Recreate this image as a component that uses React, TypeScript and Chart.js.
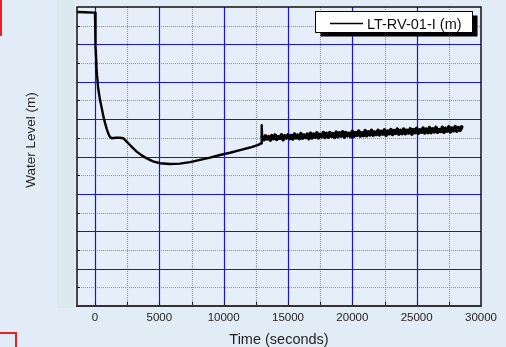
import { useEffect, useRef } from "react";
import { Chart, registerables } from "chart.js";

Chart.register(...registerables);

const FONT = 'Arial, "Liberation Sans", sans-serif';

const seriesLabel = "LT-RV-01-I (m)";
const xTitle = "Time (seconds)";
const yTitle = "Water Level (m)";

// Pumping and drawdown phase (time in s, level in m on the plot's 0–8 frame)
const drawdownTime = [
  -1400, -800, -100, 0, 39, 78, 54, 117, 78, 155, 117, 194, 233, 389, 521, 645,
  777, 909, 1049, 1166, 1298, 1632, 1943, 2200, 2464, 2798, 3241, 3630, 4018,
  4508, 5052, 5829, 6606, 7383, 8161, 8938, 9715, 10492, 11269, 12047, 12692,
  12902, 12956, 12990,
];
const drawdownLevel = [
  7.865, 7.86, 7.85, 7.845, 6.93, 6.7, 6.8, 6.45, 6.55, 6.2, 6.3, 6.05, 5.86,
  5.51, 5.3, 5.08, 4.9, 4.74, 4.6, 4.52, 4.49, 4.5, 4.5, 4.49, 4.4, 4.28, 4.13,
  4.03, 3.95, 3.87, 3.82, 3.8, 3.81, 3.85, 3.91, 3.97, 4.04, 4.1, 4.17, 4.24,
  4.31, 4.35, 4.84, 4.5,
];

// Noisy recovery record after the pump stops
const recoveryTime = [
  13000, 13125, 13250, 13375, 13500, 13625, 13750, 13875,
  14000, 14125, 14250, 14375, 14500, 14625, 14750, 14875,
  15000, 15125, 15250, 15375, 15500, 15625, 15750, 15875,
  16000, 16125, 16250, 16375, 16500, 16625, 16750, 16875,
  17000, 17125, 17250, 17375, 17500, 17625, 17750, 17875,
  18000, 18125, 18250, 18375, 18500, 18625, 18750, 18875,
  19000, 19125, 19250, 19375, 19500, 19625, 19750, 19875,
  20000, 20125, 20250, 20375, 20500, 20625, 20750, 20875,
  21000, 21125, 21250, 21375, 21500, 21625, 21750, 21875,
  22000, 22125, 22250, 22375, 22500, 22625, 22750, 22875,
  23000, 23125, 23250, 23375, 23500, 23625, 23750, 23875,
  24000, 24125, 24250, 24375, 24500, 24625, 24750, 24875,
  25000, 25125, 25250, 25375, 25500, 25625, 25750, 25875,
  26000, 26125, 26250, 26375, 26500, 26625, 26750, 26875,
  27000, 27125, 27250, 27375, 27500, 27625, 27750, 27875,
  28000, 28125, 28250, 28375, 28500,
];
const recoveryLevel = [
  4.52, 4.45, 4.55, 4.47, 4.53, 4.44, 4.56, 4.48,
  4.57, 4.46, 4.53, 4.49, 4.58, 4.45, 4.55, 4.5,
  4.58, 4.48, 4.56, 4.47, 4.6, 4.5, 4.57, 4.48,
  4.61, 4.49, 4.57, 4.51, 4.6, 4.48, 4.62, 4.5,
  4.6, 4.52, 4.63, 4.5, 4.59, 4.53, 4.64, 4.51,
  4.62, 4.52, 4.64, 4.54, 4.61, 4.51, 4.65, 4.53,
  4.63, 4.55, 4.66, 4.52, 4.64, 4.56, 4.62, 4.53,
  4.67, 4.54, 4.64, 4.57, 4.68, 4.55, 4.63, 4.56,
  4.69, 4.56, 4.66, 4.58, 4.7, 4.57, 4.65, 4.59,
  4.7, 4.58, 4.67, 4.6, 4.71, 4.57, 4.68, 4.61,
  4.72, 4.59, 4.69, 4.62, 4.73, 4.6, 4.7, 4.61,
  4.73, 4.61, 4.7, 4.63, 4.74, 4.6, 4.72, 4.64,
  4.75, 4.62, 4.71, 4.65, 4.76, 4.63, 4.73, 4.64,
  4.77, 4.64, 4.74, 4.66, 4.78, 4.65, 4.72, 4.67,
  4.78, 4.65, 4.75, 4.68, 4.79, 4.66, 4.76, 4.69,
  4.8, 4.68, 4.77, 4.7, 4.79,
];

const xLabelTicks = [0, 5000, 10000, 15000, 20000, 25000, 30000];
const xMajorGrid = [0, 5000, 10000, 15000, 20000, 25000];
const xMinorGrid = [2500, 7500, 12500, 17500, 22500, 27500];
const yMajorGrid = [1, 2, 3, 4, 5, 6, 7];
const yMinorGrid = [0.5, 1.5, 2.5, 3.5, 4.5, 5.5, 6.5, 7.5];

const backdropPlugin = {
  id: "backdrop",
  beforeDraw(chart: any) {
    const { ctx, width, height, chartArea: a } = chart;
    ctx.save();
    ctx.fillStyle = "rgb(226,236,247)";
    ctx.fillRect(0, 0, width, height);
    ctx.fillStyle = "rgb(218,233,238)";
    ctx.fillRect(57, 0, 17, 308);
    ctx.fillStyle = "rgb(230,239,249)";
    ctx.fillRect(a.left, a.top, a.right - a.left, a.bottom - a.top);
    ctx.strokeStyle = "rgb(240,30,30)";
    ctx.lineWidth = 2;
    ctx.strokeRect(-5, -5, 6, 40);
    ctx.strokeRect(-5, 333, 21, 20);
    ctx.restore();
  },
};

const gridPlugin = {
  id: "plotGrid",
  beforeDatasetsDraw(chart: any) {
    const { ctx, chartArea: a, scales } = chart;
    const x = scales.x;
    const y = scales.y;
    const vline = (v: number) => {
      const p = Math.round(x.getPixelForValue(v)) + 0.5;
      ctx.beginPath();
      ctx.moveTo(p, a.top);
      ctx.lineTo(p, a.bottom);
      ctx.stroke();
    };
    const hline = (v: number) => {
      const p = Math.round(y.getPixelForValue(v)) + 0.5;
      ctx.beginPath();
      ctx.moveTo(a.left, p);
      ctx.lineTo(a.right, p);
      ctx.stroke();
    };
    ctx.save();
    ctx.lineWidth = 1.1;
    ctx.strokeStyle = "rgb(30,228,30)";
    ctx.setLineDash([1, 1]);
    xMinorGrid.forEach(vline);
    yMinorGrid.forEach(hline);
    ctx.setLineDash([]);
    ctx.strokeStyle = "rgb(20,20,240)";
    ctx.lineWidth = 1.2;
    xMajorGrid.forEach(vline);
    yMajorGrid.forEach(hline);

    // inward tick marks along the left and bottom axes
    ctx.strokeStyle = "#222";
    ctx.lineWidth = 1;
    [...yMinorGrid, ...yMajorGrid].forEach((v) => {
      const p = Math.round(y.getPixelForValue(v)) + 0.5;
      ctx.beginPath();
      ctx.moveTo(a.left, p);
      ctx.lineTo(a.left + 3, p);
      ctx.stroke();
    });
    [...xMinorGrid, ...xMajorGrid].forEach((v) => {
      const p = Math.round(x.getPixelForValue(v)) + 0.5;
      ctx.beginPath();
      ctx.moveTo(p, a.bottom);
      ctx.lineTo(p, a.bottom - 4);
      ctx.stroke();
    });
    ctx.restore();
  },
  afterDatasetsDraw(chart: any) {
    const { ctx, chartArea: a } = chart;
    ctx.save();
    ctx.strokeStyle = "#111";
    ctx.lineWidth = 1.5;
    ctx.strokeRect(a.left, a.top, a.right - a.left, a.bottom - a.top);
    ctx.strokeStyle = "#333";
    ctx.lineWidth = 2;
    ctx.beginPath();
    ctx.moveTo(a.left - 1, a.bottom);
    ctx.lineTo(a.right + 1, a.bottom);
    ctx.stroke();
    ctx.restore();
  },
};

const overlayPlugin = {
  id: "overlay",
  afterDraw(chart: any) {
    const { ctx } = chart;
    ctx.save();
    // y-axis title
    ctx.translate(31, 140);
    ctx.rotate(-Math.PI / 2);
    ctx.fillStyle = "#1e1e1e";
    ctx.font = `13.5px ${FONT}`;
    ctx.textAlign = "center";
    ctx.textBaseline = "middle";
    ctx.fillText(yTitle, 0, 0);
    ctx.restore();

    // legend box with drop shadow
    const bx = 315.5, by = 11.5, bw = 157, bh = 21;
    ctx.save();
    ctx.fillStyle = "#000";
    ctx.fillRect(bx + 5, by + 4, bw, bh);
    ctx.fillStyle = "#fff";
    ctx.fillRect(bx, by, bw, bh);
    ctx.strokeStyle = "#000";
    ctx.lineWidth = 1;
    ctx.strokeRect(bx, by, bw, bh);
    ctx.lineWidth = 1.6;
    ctx.beginPath();
    ctx.moveTo(330, 23.5);
    ctx.lineTo(363, 23.5);
    ctx.stroke();
    ctx.fillStyle = "#111";
    ctx.font = `14.5px ${FONT}`;
    ctx.textAlign = "left";
    ctx.textBaseline = "alphabetic";
    ctx.fillText(chart.data.datasets[0].label, 367, 28.5);
    ctx.restore();
  },
};

export default function App() {
  const ref = useRef<HTMLCanvasElement>(null);

  useEffect(() => {
    const canvas = ref.current;
    if (!canvas) return;
    const points = [
      ...drawdownTime.map((t, i) => ({ x: t, y: drawdownLevel[i] })),
      ...recoveryTime.map((t, i) => ({ x: t, y: recoveryLevel[i] })),
    ];
    const recoveryStart = recoveryTime[0];
    const chart = new Chart(canvas, {
      type: "line",
      data: {
        datasets: [
          {
            label: seriesLabel,
            data: points,
            borderColor: "#000",
            borderWidth: 2.4,
            pointRadius: 0,
            tension: 0,
            borderJoinStyle: "round",
            borderCapStyle: "round",
            // the logger noise after recovery reads as a heavier trace
            segment: {
              borderWidth: (c: any) =>
                c.p0.parsed.x >= recoveryStart ? 3.6 : 2.4,
            },
          } as any,
        ],
      },
      options: {
        responsive: false,
        animation: false,
        devicePixelRatio: 1,
        layout: { padding: { left: 0, top: 7, right: 25, bottom: 0 } },
        plugins: {
          legend: { display: false },
          tooltip: { enabled: false },
        },
        scales: {
          x: {
            type: "linear",
            min: -1400,
            max: 30000,
            afterBuildTicks: (s: any) => {
              s.ticks = xLabelTicks.map((v) => ({ value: v }));
            },
            afterFit: (s: any) => {
              s.height = 41;
            },
            grid: { display: false, drawTicks: false },
            border: { display: false },
            ticks: {
              padding: 5,
              autoSkip: false,
              maxRotation: 0,
              color: "#1e1e1e",
              font: { family: FONT, size: 11.5 },
              callback: (v: any) => String(v),
            },
            title: {
              display: true,
              text: xTitle,
              color: "#1e1e1e",
              font: { family: FONT, size: 14.5, lineHeight: 1 },
              padding: 0,
            },
          },
          y: {
            type: "linear",
            min: 0,
            max: 8,
            afterFit: (s: any) => {
              s.width = 77;
            },
            ticks: { display: false },
            grid: { display: false, drawTicks: false },
            border: { display: false },
          },
        },
      } as any,
      plugins: [backdropPlugin, gridPlugin, overlayPlugin],
    });
    return () => chart.destroy();
  }, []);

  return (
    <div style={{ position: "fixed", left: 0, top: 0, width: 506, height: 347 }}>
      <canvas ref={ref} width={506} height={347} style={{ display: "block" }} />
    </div>
  );
}
